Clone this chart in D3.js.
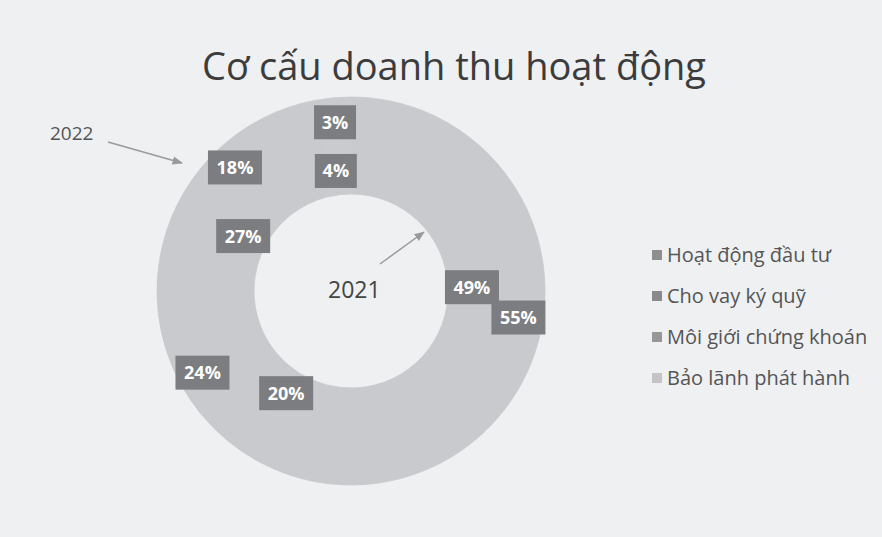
<!DOCTYPE html>
<html><head><meta charset="utf-8">
<script src="https://cdn.jsdelivr.net/npm/d3@7"></script>
<style>html,body{margin:0;padding:0;background:#eef0f2;}svg{display:block;}</style>
</head><body>
<script>
const categories = ["Hoạt động đầu tư", "Cho vay ký quỹ", "Môi giới chứng khoán", "Bảo lãnh phát hành"];
const values2021 = [49, 20, 27, 4];
const values2022 = [55, 24, 18, 3];
const years = ["2021", "2022"];
const colors = ["#c8cacd", "#c8cacd", "#c8cacd", "#c9cbce"];
const swatchColors = ["#8e8e8e", "#8a8a8a", "#979797", "#c4c4c4"];

const W = 882, H = 537;
const svg = d3.select("body").append("svg").attr("width", W).attr("height", H);
svg.append("rect").attr("width", W).attr("height", H).attr("fill", "#eef0f2");

svg.append("text").attr("x", 454).attr("y", 80).attr("text-anchor", "middle")
  .attr("font-family", "Open Sans, sans-serif").attr("font-size", 38).attr("fill", "#3c3c3c")
  .text("Cơ cấu doanh thu hoạt động");

const cx = 351, cy = 291;
const rHole = 97, rMid = 145, rOuter = 194;
const g = svg.append("g").attr("transform", `translate(${cx},${cy})`);
const pie = d3.pie().sort(null).value(d => d);

const rings = [
  {vals: values2021, r0: rHole, r1: rMid},
  {vals: values2022, r0: rMid, r1: rOuter}
];
const labels = [];
rings.forEach(ring => {
  const arc = d3.arc().innerRadius(ring.r0).outerRadius(ring.r1);
  const arcs = pie(ring.vals);
  g.selectAll(null).data(arcs).enter().append("path")
    .attr("d", arc).attr("fill", (d, i) => colors[i])
    .attr("stroke", (d, i) => colors[i]).attr("stroke-width", 0.8);
  arcs.forEach(d => labels.push({c: arc.centroid(d), v: d.data}));
});
const lg = g.selectAll(null).data(labels).enter().append("g")
  .attr("transform", d => `translate(${d.c})`);
lg.append("rect")
  .attr("x", d => d.v < 10 ? -21 : -27).attr("y", -17)
  .attr("width", d => d.v < 10 ? 42 : 54).attr("height", 34)
  .attr("fill", "#7b7d80");
lg.append("text").attr("text-anchor", "middle").attr("dy", "0.36em")
  .attr("font-family", "Open Sans, sans-serif").attr("font-weight", "bold")
  .attr("font-size", 18).attr("fill", "#ffffff")
  .text(d => d.v + "%");

// annotations
const defs = svg.append("defs");
defs.append("marker").attr("id", "ah").attr("viewBox", "0 0 10 10").attr("refX", 9).attr("refY", 5)
  .attr("markerWidth", 7).attr("markerHeight", 7).attr("orient", "auto")
  .append("path").attr("d", "M0,1 L10,5 L0,9 Z").attr("fill", "#9a9a9a");
svg.append("text").attr("x", 50).attr("y", 140).attr("font-family", "Open Sans, sans-serif")
  .attr("font-size", 19).attr("fill", "#555").text(years[1]);
svg.append("line").attr("x1", 108).attr("y1", 142).attr("x2", 182).attr("y2", 163)
  .attr("stroke", "#9a9a9a").attr("stroke-width", 1.5).attr("marker-end", "url(#ah)");
svg.append("text").attr("x", 328).attr("y", 298).attr("font-family", "Open Sans, sans-serif")
  .attr("font-size", 23).attr("fill", "#444").text(years[0]);
svg.append("line").attr("x1", 380).attr("y1", 264).attr("x2", 424).attr("y2", 232)
  .attr("stroke", "#9a9a9a").attr("stroke-width", 1.5).attr("marker-end", "url(#ah)");

// legend
const leg = svg.append("g").attr("transform", "translate(652,255)");
const li = leg.selectAll(null).data(categories).enter().append("g")
  .attr("transform", (d, i) => `translate(0,${i * 41})`);
li.append("rect").attr("x", 0).attr("y", -5).attr("width", 10).attr("height", 10)
  .attr("fill", (d, i) => swatchColors[i]);
li.append("text").attr("x", 15).attr("dy", "0.36em")
  .attr("font-family", "Open Sans, sans-serif").attr("font-size", 20)
  .attr("fill", "#555").text(d => d);
</script>
</body></html>
